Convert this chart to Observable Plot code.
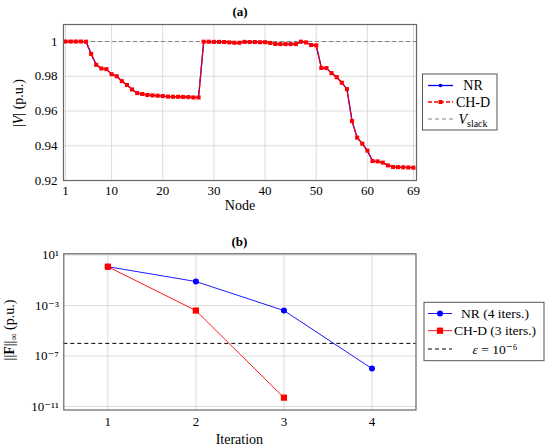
<!DOCTYPE html>
<html><head><meta charset="utf-8">
<script src="https://cdn.jsdelivr.net/npm/d3@7"></script>
<script src="https://cdn.jsdelivr.net/npm/@observablehq/plot@0.6"></script>
<style>
body{margin:0;background:#fff;}
#wrap{position:relative;width:550px;height:446px;overflow:hidden;font-family:"Liberation Serif",serif;}
#wrap svg{position:absolute;left:0;overflow:visible;font-family:"Liberation Serif","DejaVu Serif",serif;}
#wrap svg text{font-family:"Liberation Serif","DejaVu Serif",serif;}
</style></head><body><div id="wrap"></div>
<script>
// ---------- data: panel (a) voltage profile ----------
const nodes = d3.range(1, 70);
const voltageNR = [
  1.0000, 1.0000, 1.0000, 1.0000, 0.9999, 0.9929, 0.9866, 0.9845, 0.9841, 0.9812,
  0.9800, 0.9772, 0.9750, 0.9724, 0.9703, 0.9698, 0.9692, 0.9690, 0.9688, 0.9686,
  0.9683, 0.9682, 0.9682, 0.9681, 0.9680, 0.9678, 0.9678, 0.9999, 0.9999, 0.9998,
  0.9998, 0.9997, 0.9995, 0.9993, 0.9993, 0.9998, 0.9997, 0.9997, 0.9996, 0.9996,
  0.9992, 0.9986, 0.9985, 0.9985, 0.9985, 0.9985, 0.9999, 0.9995, 0.9980, 0.9978,
  0.9848, 0.9847, 0.9818, 0.9795, 0.9763, 0.9726, 0.9542, 0.9447, 0.9412, 0.9372,
  0.9312, 0.9310, 0.9303, 0.9287, 0.9278, 0.9277, 0.9276, 0.9275, 0.9274
];
const voltageCHD = [
  1.0000, 1.0000, 1.0000, 1.0000, 0.9999, 0.9929, 0.9866, 0.9845, 0.9841, 0.9812,
  0.9800, 0.9772, 0.9750, 0.9724, 0.9703, 0.9698, 0.9692, 0.9690, 0.9688, 0.9686,
  0.9683, 0.9682, 0.9682, 0.9681, 0.9680, 0.9678, 0.9678, 0.9999, 0.9999, 0.9998,
  0.9998, 0.9997, 0.9995, 0.9993, 0.9993, 0.9998, 0.9997, 0.9997, 0.9996, 0.9996,
  0.9992, 0.9986, 0.9985, 0.9985, 0.9985, 0.9985, 0.9999, 0.9995, 0.9980, 0.9978,
  0.9848, 0.9847, 0.9818, 0.9795, 0.9763, 0.9726, 0.9542, 0.9447, 0.9412, 0.9372,
  0.9312, 0.9310, 0.9303, 0.9287, 0.9278, 0.9277, 0.9276, 0.9275, 0.9274
];
const nodeTicks = [1, 10, 20, 30, 40, 50, 60, 69];
const voltTicks = [0.92, 0.94, 0.96, 0.98, 1];
const vSlack = 1;

// ---------- data: panel (b) convergence ----------
const iterNR = [1, 2, 3, 4];
const normNR = [1.2, 0.08, 4e-4, 1e-8];
const iterCHD = [1, 2, 3];
const normCHD = [1.2, 4e-4, 5e-11];
const iterTicks = [1, 2, 3, 4];
const normTicks = [1e1, 1e-3, 1e-7, 1e-11];
const normTickLabels = ["10¹", "10⁻³", "10⁻⁷", "10⁻¹¹"];
const epsilon = 1e-6;

const FONT = '"Liberation Serif", "DejaVu Serif", serif';
const STYLE = 'font-family: "Liberation Serif", "DejaVu Serif", serif; font-size: 13px; background: transparent; color: #000; overflow: visible;';
const wrap = document.getElementById("wrap");

function fixFont(svg) {
  svg.setAttribute("font-family", FONT);
  svg.setAttribute("font-size", "13");
  svg.querySelectorAll("g[font-family]").forEach(g => g.setAttribute("font-family", FONT));
}

// ---------- panel (a) ----------
const tableV = nodes.map((n, i) => ({node: n, nr: voltageNR[i], chd: voltageCHD[i]}));
const p1 = Plot.plot({
  width: 550, height: 216,
  marginLeft: 63, marginRight: 134, marginTop: 24, marginBottom: 36,
  style: STYLE,
  x: {domain: [0.6, 69.6], ticks: nodeTicks, tickSize: 0, tickPadding: 5, tickFormat: d => String(d), label: null},
  y: {domain: [0.92, 1.0098], ticks: voltTicks, tickSize: 0, tickPadding: 6,
      tickFormat: d => d === 1 ? "1" : d3.format(".2f")(d), label: null},
  marks: [
    Plot.gridX(nodeTicks, {stroke: "#dcdcdc", strokeOpacity: 1}),
    Plot.gridY(voltTicks, {stroke: "#dcdcdc", strokeOpacity: 1}),
    Plot.ruleY([vSlack], {stroke: "#808080", strokeWidth: 1, strokeDasharray: "4,3"}),
    Plot.line(tableV, {x: "node", y: "nr", stroke: "#0000ff", strokeWidth: 1.3}),
    Plot.dot(tableV, {x: "node", y: "nr", fill: "#0000ff", r: 1.5}),
    Plot.line(tableV, {x: "node", y: "chd", stroke: "#ff0000", strokeWidth: 1.3, strokeDasharray: "4,2"}),
    Plot.dot(tableV, {x: "node", y: "chd", fill: "#ff0000", symbol: "square", r: 2.3}),
    Plot.frame({stroke: "#666", strokeWidth: 1.2})
  ]
});
fixFont(p1);
p1.style.top = "0px";
wrap.appendChild(p1);
{
  const s = d3.select(p1);
  s.append("text").attr("x", 240).attr("y", 16).attr("text-anchor", "middle")
    .attr("font-family", FONT).attr("font-size", 13).attr("font-weight", "bold").text("(a)");
  s.append("text").attr("x", 240).attr("y", 210).attr("text-anchor", "middle")
    .attr("font-family", FONT).attr("font-size", 14).text("Node");
  const yl = s.append("text").attr("transform", "translate(23,103) rotate(-90)")
    .attr("text-anchor", "middle").attr("font-family", FONT).attr("font-size", 14);
  yl.append("tspan").text("|");
  yl.append("tspan").attr("font-style", "italic").text("V");
  yl.append("tspan").text("| (p.u.)");
}

// ---------- panel (b) ----------
const tableNR = iterNR.map((k, i) => ({k, v: normNR[i]}));
const tableCHD = iterCHD.map((k, i) => ({k, v: normCHD[i]}));
const p2 = Plot.plot({
  width: 550, height: 230,
  marginLeft: 63.3, marginRight: 134.5, marginTop: 37.3, marginBottom: 36.5,
  style: STYLE,
  x: {domain: [0.5, 4.5], ticks: iterTicks, tickSize: 0, tickPadding: 7, tickFormat: d => String(d), label: null},
  y: {type: "log", domain: [Math.pow(10, -11.28), Math.pow(10, 1.1)], ticks: normTicks, tickSize: 0, tickPadding: 5,
      tickFormat: d => normTickLabels[normTicks.findIndex(t => Math.abs(Math.log10(t) - Math.log10(d)) < 1e-6)] ?? "", label: null},
  marks: [
    Plot.gridX(iterTicks, {stroke: "#dcdcdc", strokeOpacity: 1}),
    Plot.gridY(normTicks, {stroke: "#dcdcdc", strokeOpacity: 1}),
    Plot.ruleY([epsilon], {stroke: "#000", strokeWidth: 1, strokeDasharray: "4,3"}),
    Plot.line(tableNR, {x: "k", y: "v", stroke: "#0000ff", strokeWidth: 0.9}),
    Plot.dot(tableNR, {x: "k", y: "v", fill: "#0000ff", r: 3}),
    Plot.line(tableCHD, {x: "k", y: "v", stroke: "#ff0000", strokeWidth: 0.9}),
    Plot.dot(tableCHD, {x: "k", y: "v", fill: "#ff0000", symbol: "square", r: 3.5}),
    Plot.frame({stroke: "#666", strokeWidth: 1.2})
  ]
});
fixFont(p2);
p2.style.top = "216px";
wrap.appendChild(p2);
{
  const s = d3.select(p2);
  s.append("text").attr("x", 239.4).attr("y", 29.5).attr("text-anchor", "middle")
    .attr("font-family", FONT).attr("font-size", 13).attr("font-weight", "bold").text("(b)");
  s.append("text").attr("x", 239.4).attr("y", 228).attr("text-anchor", "middle")
    .attr("font-family", FONT).attr("font-size", 14).text("Iteration");
  const yl = s.append("text").attr("transform", "translate(14,114) rotate(-90)")
    .attr("text-anchor", "middle").attr("font-family", FONT).attr("font-size", 14);
  yl.append("tspan").text("||");
  yl.append("tspan").attr("font-weight", "bold").text("F");
  yl.append("tspan").text("||");
  yl.append("tspan").attr("font-size", 10).attr("dy", 3).text("∞");
  yl.append("tspan").attr("dy", -3).text(" (p.u.)");
}

// ---------- legends ----------
const leg = d3.select(wrap).append("svg").attr("width", 550).attr("height", 446).style("top", "0px");
{
  // legend (a)
  leg.append("rect").attr("x", 422.5).attr("y", 74).attr("width", 74.5).attr("height", 56)
    .attr("fill", "#fff").attr("stroke", "#555").attr("stroke-width", 1);
  const rows = [85.5, 102, 119];
  leg.append("line").attr("x1", 428).attr("x2", 453).attr("y1", rows[0]).attr("y2", rows[0]).attr("stroke", "#0000ff").attr("stroke-width", 1.3);
  leg.append("circle").attr("cx", 440.5).attr("cy", rows[0]).attr("r", 1.8).attr("fill", "#0000ff");
  leg.append("line").attr("x1", 428).attr("x2", 453).attr("y1", rows[1]).attr("y2", rows[1]).attr("stroke", "#ff0000").attr("stroke-width", 1.3).attr("stroke-dasharray", "4,2");
  leg.append("rect").attr("x", 438.5).attr("y", rows[1] - 2).attr("width", 4).attr("height", 4).attr("fill", "#ff0000");
  leg.append("line").attr("x1", 428).attr("x2", 453).attr("y1", rows[2]).attr("y2", rows[2]).attr("stroke", "#808080").attr("stroke-width", 1).attr("stroke-dasharray", "4,3");
  const t = (x, y, size) => leg.append("text").attr("x", x).attr("y", y).attr("dy", "0.35em")
    .attr("text-anchor", "middle").attr("font-family", FONT).attr("font-size", size);
  t(473, rows[0], 14).text("NR");
  t(473, rows[1], 14).text("CH-D");
  const vs = t(473, rows[2], 14);
  vs.append("tspan").attr("font-style", "italic").text("V");
  vs.append("tspan").attr("font-size", 10).attr("dy", 3).text("slack");

  // legend (b)
  leg.append("rect").attr("x", 424).attr("y", 302.3).attr("width", 120).attr("height", 58.4)
    .attr("fill", "#fff").attr("stroke", "#555").attr("stroke-width", 1);
  const r2 = [313.5, 330.7, 349];
  leg.append("line").attr("x1", 428).attr("x2", 452).attr("y1", r2[0]).attr("y2", r2[0]).attr("stroke", "#0000ff").attr("stroke-width", 0.9);
  leg.append("circle").attr("cx", 440).attr("cy", r2[0]).attr("r", 3).attr("fill", "#0000ff");
  leg.append("line").attr("x1", 428).attr("x2", 452).attr("y1", r2[1]).attr("y2", r2[1]).attr("stroke", "#ff0000").attr("stroke-width", 0.9);
  leg.append("rect").attr("x", 436.9).attr("y", r2[1] - 3.1).attr("width", 6.2).attr("height", 6.2).attr("fill", "#ff0000");
  leg.append("line").attr("x1", 428).attr("x2", 452).attr("y1", r2[2]).attr("y2", r2[2]).attr("stroke", "#000").attr("stroke-width", 1).attr("stroke-dasharray", "4,3");
  t(495, r2[0], 13.5).text("NR (4 iters.)");
  t(495, r2[1], 13.5).text("CH-D (3 iters.)");
  const ep = t(495, r2[2], 13.5);
  ep.append("tspan").attr("font-style", "italic").text("ε");
  ep.append("tspan").text(" = 10⁻⁶");
}
</script></body></html>
